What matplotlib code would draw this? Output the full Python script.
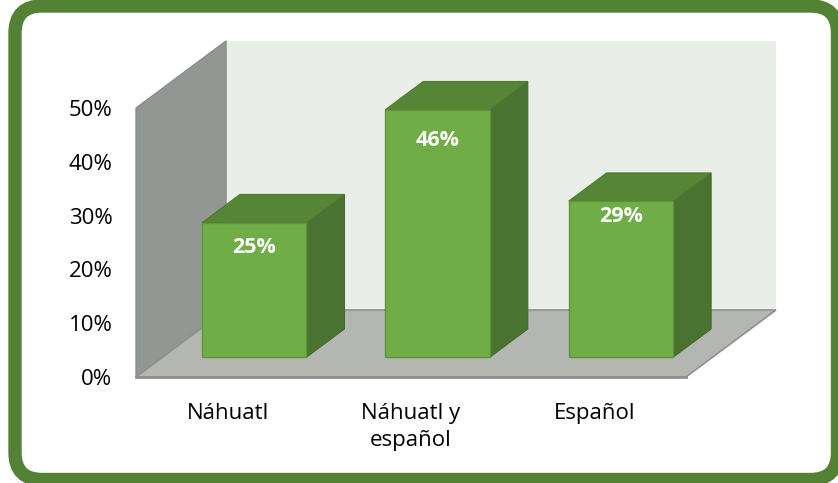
import matplotlib
matplotlib.use("Agg")
import matplotlib.pyplot as plt
from matplotlib.patches import Polygon, FancyBboxPatch
from matplotlib.ticker import PercentFormatter

categories = ["Náhuatl", "Náhuatl y\nespañol", "Español"]
values = [0.25, 0.46, 0.29]
value_labels = ["25%", "46%", "29%"]
yticks = [0.0, 0.1, 0.2, 0.3, 0.4, 0.5]

# style: distance (pixels) of each value label centre below its bar's top edge
label_drop_px = [24.7, 30.7, 15.4]

W, H, DPI = 838, 483, 100
fig = plt.figure(figsize=(W / DPI, H / DPI), dpi=DPI)
fig.patch.set_facecolor("white")

# rounded green frame
frame = FancyBboxPatch((0.15, 0.035), 8.225, 4.735,
                       boxstyle="round,pad=0,rounding_size=0.27",
                       transform=fig.dpi_scale_trans, facecolor="none",
                       edgecolor="#548235", linewidth=9.6, zorder=-1)
fig.patches.append(frame)

# axes = front plane of the 3D box
left_px, right_px, bottom_px, top_px = 136, 686, 377, 108
ax = fig.add_axes([left_px / W, 1 - bottom_px / H,
                   (right_px - left_px) / W, (bottom_px - top_px) / H])
ax.set_xlim(-0.5, len(categories) - 0.5)
ax.set_ylim(0, 0.5)
ax.patch.set_alpha(0)
for s in ax.spines.values():
    s.set_visible(False)

# depth offset in data units
cat_px = (right_px - left_px) / len(categories)
px_per_unit_y = (bottom_px - top_px) / 0.5
DX = 90 / cat_px
DY = 67 / px_per_unit_y

x0, x1 = -0.5, len(categories) - 0.5
y0, y1 = 0.0, 0.5

def poly(pts, fc, ec="none", lw=0, z=1):
    ax.add_patch(Polygon(pts, closed=True, facecolor=fc, edgecolor=ec,
                         linewidth=lw, clip_on=False, zorder=z))

# back wall
poly([(x0 + DX, y0 + DY), (x1 + DX, y0 + DY), (x1 + DX, y1 + DY), (x0 + DX, y1 + DY)],
     "#E9EEE8", z=1)
# left wall
poly([(x0, y0), (x0 + DX, y0 + DY), (x0 + DX, y1 + DY), (x0, y1)],
     "#939793", ec="#8A8D89", lw=1, z=2)
# floor
poly([(x0, y0), (x0 + DX, y0 + DY), (x1 + DX, y0 + DY), (x1, y0)],
     "#B3B6B1", ec="#8E918D", lw=1.2, z=3)
ax.plot([x0, x1], [y0, y0], color="#8E918D", lw=2, clip_on=False, zorder=3.5)

# bars
f0, f1 = 0.295, 0.717
bw = 0.57
for i, v in enumerate(values):
    bx0 = i - bw / 2 + f0 * DX
    bx1 = i + bw / 2 + f0 * DX
    by = f0 * DY
    ddx = (f1 - f0) * DX
    ddy = (f1 - f0) * DY
    z = 5 + i
    # side
    poly([(bx1, by), (bx1 + ddx, by + ddy), (bx1 + ddx, by + ddy + v), (bx1, by + v)],
         "#4A7230", ec="#436A2B", lw=0.8, z=z)
    # top
    poly([(bx0, by + v), (bx1, by + v), (bx1 + ddx, by + v + ddy), (bx0 + ddx, by + v + ddy)],
         "#568536", ec="#4E7A31", lw=0.8, z=z)
    # front
    poly([(bx0, by), (bx1, by), (bx1, by + v), (bx0, by + v)],
         "#70AD47", ec="#5E943A", lw=1.0, z=z + 0.1)
    ax.text((bx0 + bx1) / 2, by + v - label_drop_px[i] / px_per_unit_y, value_labels[i],
            ha="center", va="center", color="white", fontsize=15.5,
            fontweight="bold", family="Open Sans", zorder=z + 0.2)

ax.set_yticks(yticks)
ax.yaxis.set_major_formatter(PercentFormatter(1.0, decimals=0))
ax.set_xticks(range(len(categories)))
ax.set_xticklabels(categories, linespacing=1.38)
ax.tick_params(axis="y", length=0, pad=17, labelsize=16, labelcolor="#000000")
ax.tick_params(axis="x", length=0, pad=19, labelsize=16, labelcolor="#000000")
for lab in ax.get_xticklabels() + ax.get_yticklabels():
    lab.set_family("Open Sans")

fig.savefig("out.png", dpi=DPI, facecolor="white")
